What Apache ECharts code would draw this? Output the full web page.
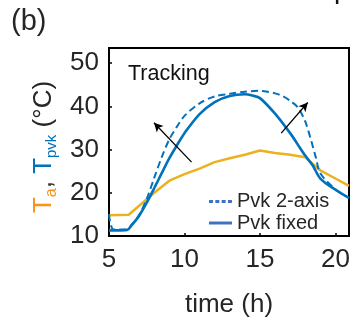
<!DOCTYPE html>
<html>
<head>
<meta charset="utf-8">
<script src="https://cdn.jsdelivr.net/npm/echarts@6/dist/echarts.min.js"></script>
<style>
  html, body { margin: 0; padding: 0; background: #fff; }
  #chart { width: 355px; height: 323px; }
</style>
</head>
<body>
<div id="chart"></div>
<script>
// ambient temperature
var taTime = [5, 6.3, 7, 8, 9, 10, 11, 12, 13, 14, 15, 16, 17, 18, 18.5, 19, 20, 20.9];
var taTemp = [14.8, 14.9, 17.0, 20.0, 22.8, 24.3, 25.6, 27.1, 28.0, 28.8, 29.8, 29.2, 28.8, 28.2, 26.7, 25.2, 23.3, 21.6];

// perovskite, fixed tilt
var fixedTime = [5, 5.5, 6.2, 6.5, 7, 7.5, 8, 8.5, 9, 9.5, 10, 11, 12, 13, 14, 14.5, 15, 16, 17, 17.5, 18, 18.5, 19, 20, 20.9];
var fixedTemp = [11.3, 11.3, 11.4, 12.5, 14.7, 17.7, 21.1, 24.6, 28.0, 31.0, 33.8, 38.2, 41.0, 42.4, 42.8, 42.5, 41.9, 38.3, 33.8, 31.2, 28.6, 26.3, 23.3, 20.7, 18.8];

// perovskite, 2-axis tracking
var twoAxisTime = [5, 5.3, 6.2, 6.5, 7, 7.5, 8, 8.5, 9, 9.5, 10, 11, 12, 13, 14, 15, 15.5, 16, 16.5, 17, 17.5, 18, 18.4, 18.7, 19, 20, 20.9];
var twoAxisTemp = [15.0, 11.5, 11.6, 12.6, 14.9, 18.6, 23.5, 28.3, 32.4, 35.3, 37.8, 40.7, 42.3, 42.9, 43.4, 43.6, 43.4, 43.0, 42.4, 41.3, 39.8, 36.5, 32.0, 28.2, 24.5, 20.8, 18.8];

// arrows: [tail, head]
var arrowLeft = [[10.47, 27.1], [7.98, 36.2]];
var arrowRight = [[16.41, 33.8], [18.17, 40.9]];

var xTicks = [5, 10, 15, 20];
var yTicks = [10, 20, 30, 40, 50];

function zip(xs, ys) {
  return xs.map(function (x, i) { return [x, ys[i]]; });
}

var blue = '#0072BD';
var legendBlue = '#3F72C4';
var orange = '#EDB120';
var font = 'Liberation Sans, Arial, sans-serif';
var textColor = '#262626';

var chart = echarts.init(document.getElementById('chart'), null, { renderer: 'canvas' });

var option = {
  animation: false,
  textStyle: { fontFamily: font },
  grid: {
    left: 109, right: 6, top: 48, bottom: 82,
    show: true, borderColor: '#000', borderWidth: 2, backgroundColor: 'transparent'
  },
  legend: {
    left: 204, top: 186,
    orient: 'vertical',
    itemWidth: 23, itemHeight: 3, itemGap: 0.5,
    textStyle: { fontSize: 20, color: textColor, fontFamily: font, lineHeight: 21 },
    data: [
      { name: 'Pvk 2-axis', icon: 'path://M0,0h4v3h-4z M6.3,0h4v3h-4z M12.6,0h4v3h-4z M18.9,0h4v3h-4z', itemStyle: { color: legendBlue } },
      { name: 'Pvk fixed', icon: 'path://M0,0h23v3h-23z', itemStyle: { color: legendBlue } }
    ]
  },
  xAxis: {
    type: 'value', min: 5, max: 20.9, interval: 5,
    name: 'time (h)', nameLocation: 'middle', nameGap: 56,
    nameTextStyle: { fontSize: 26, color: textColor, fontFamily: font },
    axisLine: { lineStyle: { color: '#000', width: 2 } },
    axisTick: { inside: true, length: 3, lineStyle: { color: '#000', width: 1.5 } },
    axisLabel: {
      fontSize: 26, color: textColor, margin: 11, showMaxLabel: false,
      formatter: function (v) { return xTicks.indexOf(v) >= 0 ? String(v) : ''; }
    },
    splitLine: { show: false }
  },
  yAxis: {
    type: 'value', min: 10, max: 53.5, interval: 10,
    name: '{ta|T}{tas|a}{sep|, }{tp|T}{tps|pvk}{unit| (°C)}',
    nameLocation: 'middle', nameRotate: 90, nameGap: 49,
    nameTextStyle: {
      fontFamily: font,
      padding: [0, 10, 0, 0],
      rich: {
        ta: { color: '#F7941D', fontSize: 26, lineHeight: 30, fontFamily: font },
        tas: { color: '#F7941D', fontSize: 16, lineHeight: 14, verticalAlign: 'bottom', fontFamily: font },
        sep: { color: '#333', fontSize: 26, lineHeight: 30, fontFamily: font },
        tp: { color: blue, fontSize: 26, lineHeight: 30, fontFamily: font },
        tps: { color: blue, fontSize: 15, lineHeight: 14, verticalAlign: 'bottom', fontFamily: font },
        unit: { color: textColor, fontSize: 26, lineHeight: 30, fontFamily: font }
      }
    },
    axisLine: { lineStyle: { color: '#000', width: 2 } },
    axisTick: { inside: true, length: 3, lineStyle: { color: '#000', width: 1.5 } },
    axisLabel: {
      fontSize: 26, color: textColor, margin: 10, showMaxLabel: false,
      formatter: function (v) { return yTicks.indexOf(v) >= 0 ? String(v) : ''; }
    },
    splitLine: { show: false }
  },
  graphic: [
    { type: 'text', left: 11, top: 7, style: { text: '(b)', fontSize: 29, fill: textColor, fontFamily: font } },
    { type: 'text', left: 128, top: 63, style: { text: 'Tracking', fontSize: 21.5, fill: '#111', fontFamily: font } },
    { type: 'text', left: 334, top: -24, style: { text: 'p', fontSize: 28, fill: '#111', fontFamily: font } }
  ],
  series: [
    {
      name: 'Ta', type: 'line', data: zip(taTime, taTemp),
      showSymbol: false, symbol: 'none', smooth: false,
      lineStyle: { color: orange, width: 2.5 }, z: 2
    },
    {
      name: 'Pvk 2-axis', type: 'line', data: zip(twoAxisTime, twoAxisTemp),
      showSymbol: false, symbol: 'none', smooth: 0.3,
      itemStyle: { color: blue },
      lineStyle: { color: blue, width: 2, type: [7, 4] }, z: 3
    },
    {
      name: 'Pvk fixed', type: 'line', data: zip(fixedTime, fixedTemp),
      showSymbol: false, symbol: 'none', smooth: 0.3,
      itemStyle: { color: blue },
      lineStyle: { color: blue, width: 2.6 }, z: 4,
      markLine: {
        silent: true,
        symbol: ['none', 'arrow'], symbolSize: [7, 9],
        label: { show: false },
        lineStyle: { color: '#000', width: 1.3, type: 'solid' },
        data: [
          [{ coord: arrowLeft[0] }, { coord: arrowLeft[1] }],
          [{ coord: arrowRight[0] }, { coord: arrowRight[1] }]
        ]
      }
    }
  ]
};

chart.setOption(option);
</script>
</body>
</html>
